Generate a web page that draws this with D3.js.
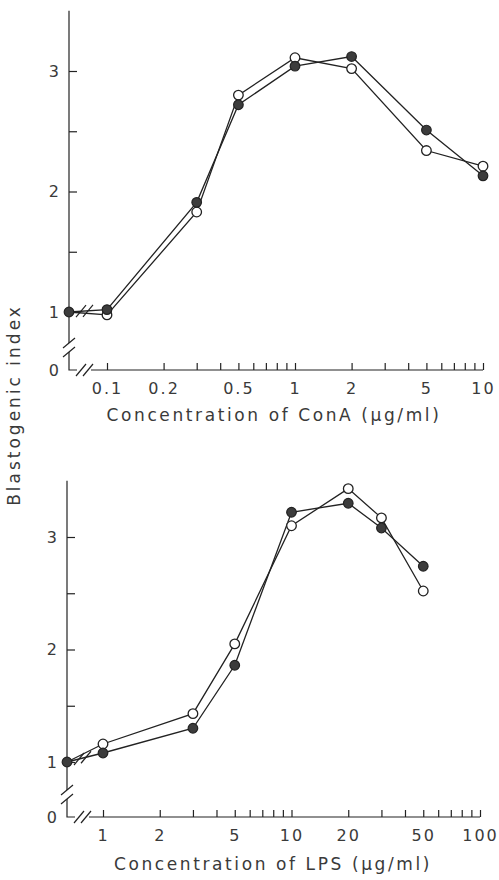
<!DOCTYPE html>
<html>
<head>
<meta charset="utf-8">
<script src="https://cdn.jsdelivr.net/npm/d3@7"></script>
<style>
body { margin: 0; background: #fff; }
svg text { font-family: "DejaVu Sans", sans-serif; fill: #3a3a3a; }
</style>
</head>
<body>
<div id="chart"></div>
<script>
//ConA panel values (blastogenic index)
var conaDoses = [0.1, 0.3, 0.5, 1, 2, 5, 10];
var conaFilled = [1.02, 1.91, 2.72, 3.04, 3.12, 2.51, 2.13];
var conaOpen = [0.95, 1.83, 2.80, 3.11, 3.02, 2.34, 2.21];
var conaControl = 1.0;
var conaTickLabels = [0.1, 0.2, 0.5, 1, 2, 5, 10];

//LPS panel values
var lpsDoses = [1, 3, 5, 10, 20, 30, 50];
var lpsFilled = [1.08, 1.30, 1.86, 3.22, 3.30, 3.08, 2.74];
var lpsOpen = [1.16, 1.43, 2.05, 3.10, 3.43, 3.17, 2.52];
var lpsControl = 1.0;
var lpsTickLabels = [1, 2, 5, 10, 20, 50, 100];

var yTickValues = [0, 1, 1.5, 2, 2.5, 3];

var ink = "#222";

var svg = d3.select("#chart").append("svg")
    .attr("width", 499)
    .attr("height", 880);

//shared y label
svg.append("text")
    .attr("transform", "translate(20,405) rotate(-90)")
    .attr("text-anchor", "middle")
    .style("font-size", "17px")
    .style("letter-spacing", "3px")
    .text("Blastogenic index");

function slash(g, cx, cy, dx, dy) {
    g.append("line")
        .attr("x1", cx - dx).attr("y1", cy + dy)
        .attr("x2", cx + dx).attr("y2", cy - dy)
        .attr("stroke", ink).attr("stroke-width", 1.2);
}

function drawPanel(p) {
    const x = d3.scaleLog().domain(p.xDomain).range(p.xRange);
    const y = d3.scaleLinear().domain([0, 1, 3]).range(p.yRange);
    const g = svg.append("g");
    const x0 = p.axisX;
    const base = y(0);

    //y axis ticks and labels
    const yAxis = d3.axisLeft(y)
        .tickValues(yTickValues)
        .tickSize(-8)
        .tickPadding(10)
        .tickFormat(function(d){ return Number.isInteger(d) ? d : ""; });
    const ya = g.append("g")
        .attr("transform", "translate(" + x0 + ",0)")
        .call(yAxis);
    ya.select(".domain").remove();
    ya.selectAll(".tick line").attr("stroke", ink).attr("stroke-width", 1.2);
    ya.selectAll(".tick").filter(function(d){ return d === 0; }).select("line").remove();
    ya.selectAll(".tick text").style("font-size", "16px").attr("fill", "#3a3a3a");

    //y axis line with break
    g.append("line")
        .attr("x1", x0).attr("y1", y(3.5))
        .attr("x2", x0).attr("y2", base - 27)
        .attr("stroke", ink).attr("stroke-width", 1.2);
    slash(g, x0, base - 27, 6, 5);
    slash(g, x0, base - 18, 6, 5);
    g.append("path")
        .attr("d", "M" + x0 + "," + (base - 18) + " L" + x0 + "," + base + " L" + (x0 + 8) + "," + base)
        .attr("fill", "none").attr("stroke", ink).attr("stroke-width", 1.2);
    slash(g, x0 + 12, base, 5, 6);
    slash(g, x0 + 19, base, 5, 6);

    //x axis
    g.append("line")
        .attr("x1", x0 + 22).attr("y1", base)
        .attr("x2", p.xRange[1]).attr("y2", base)
        .attr("stroke", ink).attr("stroke-width", 1.2);
    const xAxis = d3.axisBottom(x)
        .tickValues(x.ticks())
        .tickSize(-7)
        .tickPadding(13)
        .tickFormat(function(d){
            const hit = p.tickLabels.find(function(v){ return Math.abs(v - d) < 1e-9; });
            return hit === undefined ? "" : String(hit);
        });
    const xa = g.append("g")
        .attr("transform", "translate(0," + base + ")")
        .call(xAxis);
    xa.select(".domain").remove();
    xa.selectAll(".tick line").attr("stroke", ink).attr("stroke-width", 1.2);
    xa.selectAll(".tick text")
        .style("font-size", "16px")
        .style("letter-spacing", "2px")
        .attr("fill", "#3a3a3a");

    //x title
    g.append("text")
        .attr("x", p.titleX)
        .attr("y", p.titleY)
        .attr("text-anchor", "middle")
        .style("font-size", "17px")
        .style("letter-spacing", "2.6px")
        .text(p.title);

    //series lines, starting from the control point on the axis
    const line = d3.line()
        .x(function(d){ return d.ctrl ? x0 : x(d.dose); })
        .y(function(d){ return y(d.v); });

    [p.open, p.filled].forEach(function(vals){
        const pts = [{ctrl: true, v: p.control}].concat(
            p.doses.map(function(d, i){ return {dose: d, v: vals[i]}; }));
        g.append("path")
            .attr("d", line(pts))
            .attr("fill", "none")
            .attr("stroke", ink)
            .attr("stroke-width", 1.3);
    });

    //break marks on the control-to-first-dose segment
    const yc = y(p.control);
    const y1 = y(p.filled[0]);
    const x1 = x(p.doses[0]);
    [12, 19].forEach(function(off){
        const t = off / (x1 - x0);
        slash(g, x0 + off, yc + (y1 - yc) * t, 5, 6);
    });

    //markers
    g.append("g").selectAll("circle")
        .data(p.doses)
        .enter().append("circle")
        .attr("cx", function(d){ return x(d); })
        .attr("cy", function(d, i){ return y(p.open[i]); })
        .attr("r", 4.8)
        .attr("fill", "#fff")
        .attr("stroke", ink)
        .attr("stroke-width", 1.3);

    g.append("g").selectAll("circle")
        .data([null].concat(p.doses))
        .enter().append("circle")
        .attr("cx", function(d){ return d === null ? x0 : x(d); })
        .attr("cy", function(d, i){ return d === null ? y(p.control) : y(p.filled[i - 1]); })
        .attr("r", 4.8)
        .attr("fill", "#3c3c3c")
        .attr("stroke", ink)
        .attr("stroke-width", 1.2);
}

drawPanel({
    doses: conaDoses, filled: conaFilled, open: conaOpen, control: conaControl,
    tickLabels: conaTickLabels,
    xDomain: [0.1, 10], xRange: [107, 483],
    yRange: [370, 312, 71], axisX: 69,
    title: "Concentration of ConA (\u03bcg/ml)", titleX: 274, titleY: 421
});

drawPanel({
    doses: lpsDoses, filled: lpsFilled, open: lpsOpen, control: lpsControl,
    tickLabels: lpsTickLabels,
    xDomain: [1, 100], xRange: [103, 480],
    yRange: [817, 762, 537], axisX: 67,
    title: "Concentration of LPS (\u03bcg/ml)", titleX: 273, titleY: 870
});
</script>
</body>
</html>
